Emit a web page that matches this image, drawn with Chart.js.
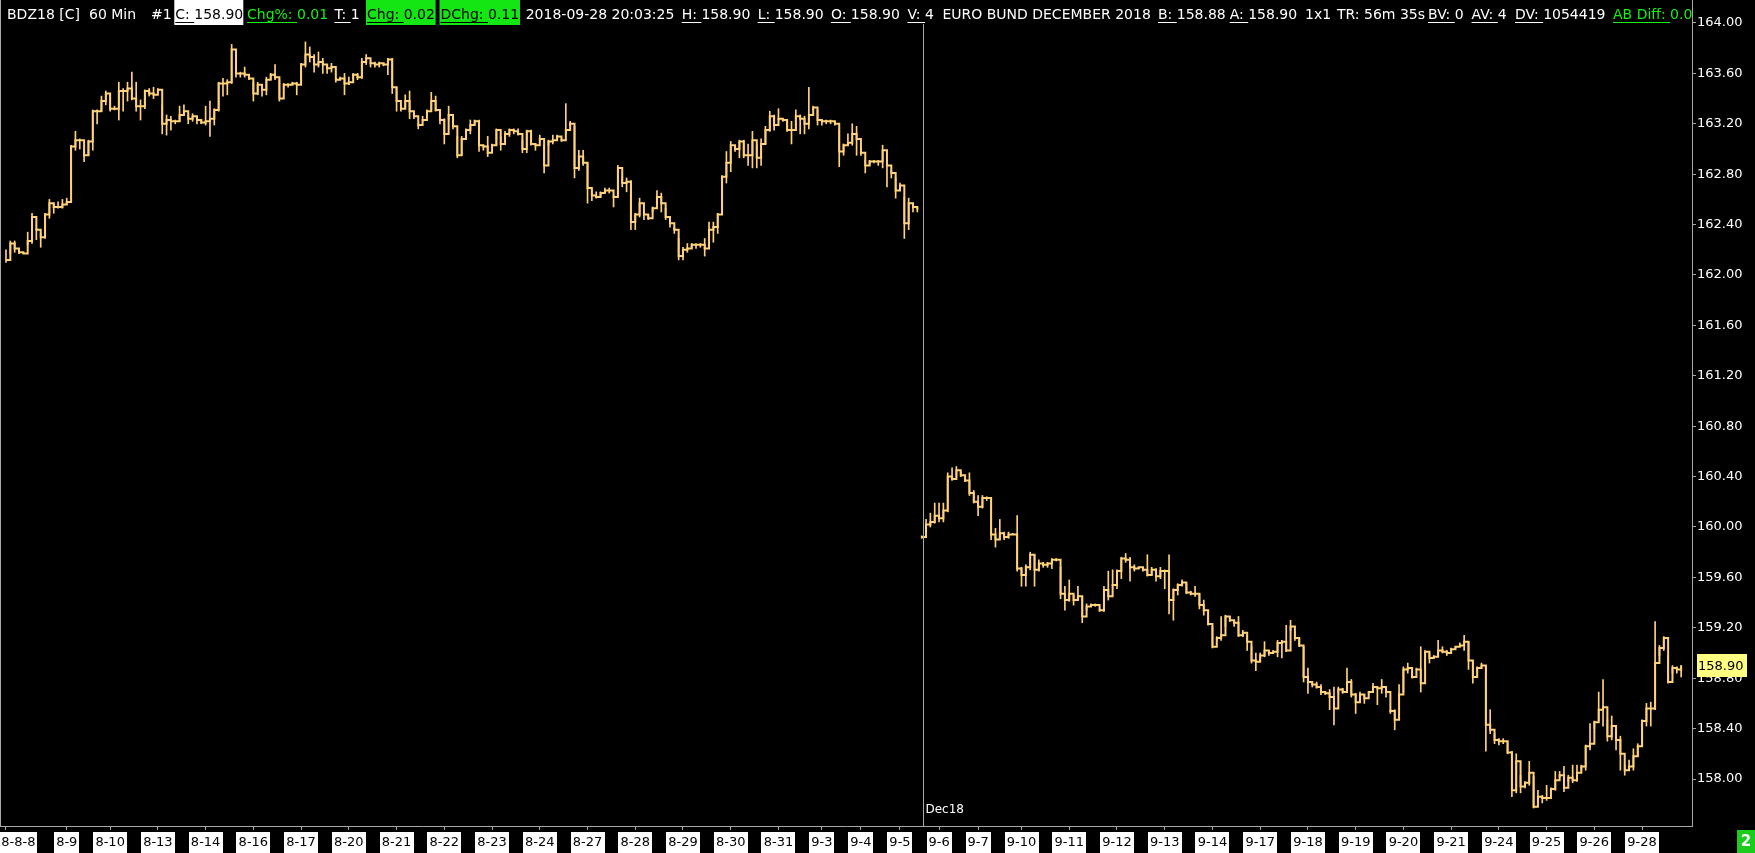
<!DOCTYPE html>
<html><head><meta charset="utf-8">
<script src="https://cdn.jsdelivr.net/npm/chart.js@4.4.1/dist/chart.umd.min.js"></script>
<style>html,body{margin:0;padding:0;background:#000;overflow:hidden}#wrap{width:1755px;height:853px}</style>
</head><body><div id="wrap"><canvas id="c" width="1755" height="853"></canvas></div>
<script>
// ---------- DATA ----------
const dayLabels = ['2018-8-8','8-9','8-10','8-13','8-14','8-16','8-17','8-20','8-21','8-22','8-23','8-24','8-27','8-28','8-29','8-30','8-31','9-3','9-4','9-5','9-6','9-7','9-10','9-11','9-12','9-13','9-14','9-17','9-18','9-19','9-20','9-21','9-24','9-25','9-26','9-28'];
const dayBars = [14,10,11,11,11,11,11,11,11,11,11,11,11,11,11,11,10,9,9,9,9,10,11,11,11,11,11,11,11,11,11,11,11,11,11,10];
const yTicks = [158.0,158.4,158.8,159.2,159.6,160.0,160.4,160.8,161.2,161.6,162.0,162.4,162.8,163.2,163.6,164.0];
const sepStart = 0;      // September contract bars
const decStart = 211;    // December contract bars (after roll)
const rollAt = 211.35;   // roll separator, in bar units
const contractLabel = 'Dec18';
const lastPrice = 158.90;

const sepClose = [162.12,162.25,162.21,162.18,162.17,162.27,162.46,162.36,162.30,162.48,
162.57,162.54,162.54,162.56,162.58,163.02,163.07,163.07,162.95,163.06,
163.30,163.30,163.38,163.44,163.32,163.32,163.46,163.46,163.48,163.40,
163.34,163.34,163.46,163.44,163.43,163.47,163.20,163.23,163.22,163.22,
163.27,163.30,163.24,163.26,163.23,163.21,163.22,163.24,163.31,163.52,
163.52,163.53,163.79,163.60,163.60,163.59,163.56,163.44,163.51,163.47,
163.55,163.59,163.57,163.40,163.51,163.51,163.52,163.51,163.67,163.75,
163.73,163.67,163.69,163.67,163.64,163.65,163.55,163.56,163.52,163.53,
163.59,163.57,163.69,163.72,163.68,163.67,163.68,163.67,163.71,163.49,
163.38,
163.32,163.38,163.30,163.26,163.19,163.23,163.30,163.38,163.31,
163.23,163.12,163.27,163.18,162.95,163.08,163.15,163.19,163.22,163.03,
163.02,162.97,163.03,163.15,163.04,163.12,163.15,163.14,163.12,163.00,
163.14,163.04,163.03,163.08,162.87,163.06,163.07,163.10,163.07,163.15,
163.20,162.85,162.94,162.89,162.69,162.63,162.62,162.65,162.67,162.67,
162.62,162.85,162.73,162.74,162.42,162.48,162.57,162.48,162.45,162.53,
162.62,162.57,162.46,162.41,162.36,162.15,162.20,162.21,162.24,162.24,
162.24,162.21,162.36,162.38,162.48,162.78,162.89,163.03,163.00,163.06,
162.95,162.95,163.07,162.93,163.04,163.15,163.26,163.19,163.24,163.23,
163.15,163.15,163.26,163.24,163.20,163.27,163.33,163.23,163.22,163.22,
163.22,163.20,162.98,163.03,163.05,163.12,163.08,162.97,162.87,162.90,
162.90,162.90,162.99,162.87,162.81,162.67,162.71,162.41,162.57,162.54,162.52];

const sepLow = [162.10,162.17,162.18,162.17,162.17,162.24,162.25,162.28,162.22,162.29,
162.45,162.49,162.53,162.53,162.56,162.68,162.99,163.00,162.90,162.95,
162.99,163.20,163.30,163.35,163.30,163.31,163.23,163.30,163.38,163.39,
163.30,163.23,163.32,163.42,163.40,163.46,163.12,163.11,163.15,163.20,
163.22,163.27,163.20,163.22,163.20,163.20,163.19,163.10,163.19,163.30,
163.42,163.43,163.52,163.57,163.57,163.57,163.55,163.38,163.43,163.42,
163.43,163.55,163.55,163.38,163.48,163.49,163.51,163.43,163.52,163.65,
163.69,163.61,163.65,163.60,163.60,163.61,163.53,163.55,163.43,163.51,
163.56,163.55,163.56,163.67,163.65,163.65,163.65,163.66,163.59,163.44,
163.30,
163.30,163.32,163.24,163.24,163.16,163.22,163.28,163.31,163.30,
163.20,163.04,163.23,163.16,162.93,162.95,163.10,163.12,163.20,162.98,
162.99,162.94,163.02,163.03,162.99,163.07,163.10,163.12,163.11,162.97,
162.97,163.03,162.99,163.06,162.81,163.03,163.04,163.07,163.06,163.12,
163.18,162.77,162.83,162.87,162.57,162.59,162.61,162.62,162.65,162.65,
162.54,162.63,162.70,162.66,162.36,162.36,162.46,162.44,162.44,162.50,
162.56,162.50,162.44,162.38,162.33,162.12,162.12,162.18,162.21,162.21,
162.22,162.15,162.30,162.26,162.33,162.48,162.73,162.82,162.98,162.93,
162.93,162.87,162.85,162.85,162.87,163.04,163.14,163.15,163.23,163.22,
163.14,163.04,163.15,163.12,163.12,163.16,163.31,163.19,163.19,163.20,
163.20,163.19,162.86,162.95,163.03,163.03,162.95,162.95,162.81,162.87,
162.89,162.87,162.85,162.70,162.77,162.61,162.70,162.29,162.36,162.50,162.50];

const sepHigh = [162.20,162.27,162.27,162.19,162.18,162.34,162.49,162.37,162.33,162.49,
162.60,162.57,162.58,162.60,162.61,163.03,163.14,163.08,163.00,163.07,
163.31,163.31,163.42,163.46,163.44,163.34,163.53,163.48,163.53,163.61,
163.53,163.39,163.47,163.48,163.49,163.48,163.35,163.27,163.26,163.23,
163.34,163.35,163.27,163.28,163.26,163.23,163.34,163.38,163.32,163.53,
163.56,163.55,163.83,163.65,163.61,163.65,163.57,163.53,163.53,163.51,
163.57,163.60,163.67,163.55,163.52,163.52,163.53,163.53,163.68,163.85,
163.81,163.75,163.77,163.72,163.67,163.68,163.56,163.57,163.60,163.57,
163.60,163.60,163.72,163.75,163.69,163.69,163.69,163.68,163.72,163.72,
163.49,
163.35,163.43,163.46,163.28,163.20,163.26,163.31,163.45,163.42,
163.31,163.24,163.34,163.26,163.10,163.10,163.16,163.23,163.23,163.23,
163.03,163.10,163.04,163.16,163.10,163.14,163.16,163.16,163.16,163.07,
163.15,163.15,163.04,163.11,163.03,163.07,163.11,163.11,163.08,163.36,
163.22,163.18,162.99,162.99,162.89,162.67,162.66,162.66,162.69,162.69,
162.63,162.87,162.78,162.77,162.75,162.49,162.61,162.50,162.48,162.54,
162.67,162.65,162.53,162.46,162.38,162.29,162.22,162.25,162.25,162.25,
162.25,162.29,162.42,162.42,162.49,162.79,162.98,163.06,163.02,163.07,
163.07,163.04,163.14,163.03,163.08,163.18,163.30,163.27,163.32,163.24,
163.22,163.22,163.31,163.27,163.26,163.49,163.34,163.31,163.23,163.23,
163.23,163.22,163.15,163.04,163.12,163.20,163.18,163.01,162.91,162.91,
162.91,162.91,163.03,162.91,162.83,162.77,162.73,162.62,162.61,162.57,162.53];

const decClose = [159.92,160.02,160.04,160.09,160.07,160.13,160.40,160.38,160.45,160.41,
160.37,160.27,160.20,160.16,160.23,160.23,159.94,159.90,159.95,159.92,
159.94,159.94,159.67,159.62,159.68,159.78,159.66,159.71,159.70,159.71,
159.74,159.74,159.47,159.42,159.47,159.42,159.45,159.29,159.37,159.38,
159.38,159.34,159.50,159.45,159.54,159.65,159.75,159.74,159.68,159.67,
159.68,159.66,159.62,159.66,159.61,159.65,159.65,159.42,159.50,159.54,
159.56,159.48,159.47,159.47,159.38,159.34,159.23,159.05,159.12,159.14,
159.29,159.26,159.24,159.14,159.16,159.09,158.94,158.93,158.98,159.02,
159.00,159.01,159.08,159.09,159.02,159.21,159.12,159.06,158.81,158.77,
158.75,158.73,158.69,158.68,158.65,158.56,158.71,158.69,158.77,158.67,
158.61,158.67,158.64,158.69,158.73,158.72,158.73,158.69,158.54,158.47,
158.67,158.87,158.88,158.81,158.87,158.76,159.01,158.96,158.97,159.02,
159.01,159.00,159.03,159.05,159.06,159.09,158.94,158.81,158.88,158.90,
158.43,158.39,158.31,158.30,158.30,158.21,157.91,158.14,157.94,157.97,
158.05,157.78,157.86,157.85,157.85,157.92,157.99,158.03,157.93,158.01,
157.99,158.05,158.10,158.26,158.28,158.45,158.55,158.57,158.34,158.42,
158.31,158.20,158.07,158.10,158.18,158.26,158.46,158.56,158.56,158.92,
159.04,159.12,158.77,158.88,158.87,158.90];

const decLow = [159.91,159.92,160.00,160.03,160.04,160.04,160.12,160.37,160.40,160.40,
160.36,160.25,160.19,160.09,160.15,160.21,159.90,159.84,159.90,159.90,
159.91,159.94,159.65,159.53,159.53,159.66,159.53,159.65,159.68,159.68,
159.67,159.73,159.43,159.34,159.41,159.38,159.42,159.24,159.34,159.37,
159.37,159.33,159.33,159.42,159.53,159.51,159.59,159.72,159.57,159.65,
159.67,159.65,159.61,159.62,159.57,159.59,159.51,159.31,159.26,159.46,
159.53,159.47,159.46,159.45,159.35,159.30,159.22,159.04,159.10,159.10,
159.21,159.25,159.21,159.13,159.13,159.02,158.92,158.86,158.94,158.97,
158.98,159.00,158.97,158.96,159.01,159.18,159.10,159.05,158.77,158.68,
158.73,158.72,158.67,158.67,158.55,158.43,158.68,158.68,158.72,158.65,
158.52,158.65,158.60,158.68,158.69,158.59,158.68,158.65,158.52,158.39,
158.65,158.69,158.84,158.80,158.87,158.69,158.89,158.92,158.96,158.98,
159.00,158.98,159.02,159.04,159.05,159.02,158.87,158.76,158.85,158.88,
158.22,158.36,158.28,158.27,158.28,158.20,157.86,157.89,157.89,157.93,
157.95,157.77,157.81,157.81,157.83,157.91,157.91,158.01,157.90,157.98,
157.97,157.98,158.07,158.07,158.23,158.40,158.46,158.42,158.30,158.31,
158.23,158.07,158.03,158.07,158.07,158.18,158.26,158.42,158.42,158.55,
158.98,159.02,158.76,158.84,158.84,158.81];

const decHigh = [159.93,160.06,160.11,160.19,160.19,160.19,160.43,160.47,160.48,160.44,
160.38,160.43,160.29,160.25,160.25,160.24,160.23,159.99,160.06,159.96,
159.96,159.95,160.09,159.68,159.70,159.80,159.78,159.74,159.72,159.72,
159.75,159.75,159.68,159.53,159.58,159.46,159.53,159.45,159.39,159.39,
159.39,159.35,159.53,159.65,159.66,159.66,159.76,159.79,159.76,159.70,
159.68,159.68,159.78,159.68,159.67,159.68,159.66,159.78,159.51,159.55,
159.58,159.55,159.49,159.53,159.47,159.42,159.31,159.21,159.13,159.29,
159.30,159.29,159.25,159.29,159.18,159.14,159.05,159.00,159.00,159.09,
159.02,159.02,159.10,159.10,159.22,159.26,159.16,159.12,159.05,158.88,
158.76,158.77,158.75,158.69,158.71,158.73,158.73,158.72,158.88,158.79,
158.68,158.69,158.67,158.69,158.76,158.73,158.79,158.72,158.55,158.55,
158.75,158.89,158.92,158.85,158.88,159.05,159.02,159.00,158.98,159.10,
159.05,159.02,159.04,159.05,159.08,159.14,159.09,158.94,158.89,158.92,
158.90,158.55,158.36,158.32,158.32,158.30,158.22,158.20,158.03,157.98,
158.14,158.02,157.91,157.87,157.95,157.93,158.06,158.06,158.10,158.03,
158.11,158.11,158.11,158.27,158.44,158.46,158.69,158.79,158.47,158.50,
158.39,158.34,158.11,158.15,158.24,158.28,158.47,158.60,158.61,159.25,
159.06,159.13,158.98,158.90,158.89,158.90];

// ---------- BUILD ----------
const BAR = '#FFD27A';
const AXIS = '#A8A8A8';
const FONT = '"DejaVu Sans", sans-serif';
Chart.defaults.font.family = FONT;

const dayStarts = [];
dayBars.reduce((acc, n) => { dayStarts.push(acc); return acc + n; }, 0);
const nBars = dayBars.reduce((a, b) => a + b, 0);

const toRanges = (lo, hi, start) => lo.map((v, k) => ({x: start + k, y: [v, hi[k]]}));
const toPts = (c, start) => c.map((v, k) => ({x: start + k, y: v}));

// quote header: text pieces (label underlined) and their start positions
const header = [
  {x: 7,      v: 'BDZ18 [C]'},
  {x: 89,     v: '60 Min'},
  {x: 151,    v: '#1'},
  {x: 174.3,  w: 69,   l: 'C:', v: '158.90', fg: '#000', bg: '#fff'},
  {x: 247,    l: 'Chg%:', v: '0.01', fg: '#14f014'},
  {x: 334.5,  l: 'T:', v: '1'},
  {x: 366,    w: 69.6, l: 'Chg:', v: '0.02', fg: '#000', bg: '#14e614'},
  {x: 439.5,  w: 80.5, l: 'DChg:', v: '0.11', fg: '#000', bg: '#14e614'},
  {x: 525.7,  v: '2018-09-28 20:03:25'},
  {x: 681.7,  l: 'H:', v: '158.90'},
  {x: 757.7,  l: 'L:', v: '158.90'},
  {x: 830.9,  l: 'O:', v: '158.90'},
  {x: 907.4,  l: 'V:', v: '4'},
  {x: 942.4,  v: 'EURO BUND DECEMBER 2018'},
  {x: 1158,   l: 'B:', v: '158.88'},
  {x: 1229.7, l: 'A:', v: '158.90'},
  {x: 1305,   v: '1x1'},
  {x: 1337,   v: 'TR: 56m 35s'},
  {x: 1428,   l: 'BV:', v: '0'},
  {x: 1471.5, l: 'AV:', v: '4'},
  {x: 1515,   l: 'DV:', v: '1054419'},
  {x: 1613,   l: 'AB Diff:', v: '0.02', fg: '#14f014'}
];

const deco = {
  id: 'deco',
  afterDraw(chart) {
    const {ctx, chartArea: a, scales: {x, y}} = chart;
    ctx.save();
    // left border
    ctx.fillStyle = AXIS;
    ctx.fillRect(0, 0, 1, a.bottom);
    // date labels of the x axis (white boxes), placed by the x scale
    ctx.font = '13px ' + FONT; ctx.textAlign = 'center'; ctx.textBaseline = 'middle';
    dayStarts.forEach((v, i) => {
      const px = x.getPixelForValue(v);
      const w = Math.round(ctx.measureText(dayLabels[i]).width + 4);
      ctx.fillStyle = '#fff';
      ctx.fillRect(Math.round(px - w / 2), a.bottom + 6, w, 21);
      ctx.fillStyle = '#000';
      ctx.fillText(dayLabels[i], px, a.bottom + 17);
    });
    // contract roll separator
    const sx = Math.round(x.getPixelForValue(rollAt)) + 0.5;
    ctx.strokeStyle = AXIS; ctx.lineWidth = 1;
    ctx.beginPath(); ctx.moveTo(sx, 24); ctx.lineTo(sx, a.bottom); ctx.stroke();
    ctx.fillStyle = '#fff'; ctx.font = '12px ' + FONT;
    ctx.textAlign = 'left'; ctx.textBaseline = 'alphabetic';
    ctx.fillText(contractLabel, sx + 2, a.bottom - 13);
    // last price marker
    const py = y.getPixelForValue(lastPrice);
    ctx.fillStyle = '#FFFF80';
    ctx.fillRect(a.right + 5, Math.round(py - 11.5), 50, 23);
    ctx.fillStyle = '#000'; ctx.font = '13px ' + FONT; ctx.textBaseline = 'middle';
    ctx.fillText(lastPrice.toFixed(2), a.right + 6, py + 1);
    // header
    ctx.font = '14px ' + FONT; ctx.textBaseline = 'alphabetic'; ctx.textAlign = 'left';
    ctx.save();
    ctx.beginPath(); ctx.rect(0, 0, a.right, 30); ctx.clip();
    header.forEach(h => {
      const lab = h.l ? h.l + ' ' : '';
      const txt = lab + h.v;
      if (h.bg) { ctx.fillStyle = h.bg; ctx.fillRect(h.x, 0, h.w, 25); }
      const tx = h.x + (h.bg ? 1 : 0);
      ctx.fillStyle = h.fg || '#fff';
      ctx.fillText(txt, tx, 19);
      if (h.l) ctx.fillRect(tx, 22, ctx.measureText(lab).width, 1);
    });
    ctx.restore();
    // page badge
    ctx.fillStyle = '#1ccc1c';
    ctx.fillRect(1737, 830, 18, 23);
    ctx.fillStyle = '#fff'; ctx.font = 'bold 15px ' + FONT; ctx.textAlign = 'center'; ctx.textBaseline = 'middle';
    ctx.fillText('2', 1746, 842);
    ctx.restore();
  }
};

new Chart(document.getElementById('c'), {
  type: 'bar',
  data: {
    datasets: [
      {type: 'bar', data: toRanges(sepLow, sepHigh, sepStart).concat(toRanges(decLow, decHigh, decStart)),
       backgroundColor: BAR, borderWidth: 0, barThickness: 1, grouped: false, order: 2},
      {type: 'line', data: toPts(sepClose, sepStart), stepped: true, borderColor: BAR, borderWidth: 2,
       pointRadius: 0, fill: false, order: 1},
      {type: 'line', data: toPts(decClose, decStart), stepped: true, borderColor: BAR, borderWidth: 2,
       pointRadius: 0, fill: false, order: 1}
    ]
  },
  options: {
    responsive: false, devicePixelRatio: 1, animation: false,
    layout: {padding: 0},
    plugins: {legend: {display: false}, tooltip: {enabled: false}},
    scales: {
      x: {
        type: 'linear', position: 'bottom', min: -1.38, max: nBars + 1.5, offset: false,
        grid: {offset: false, drawOnChartArea: false, drawTicks: true, tickLength: 4, color: AXIS},
        border: {display: true, color: AXIS, width: 1},
        afterBuildTicks: s => { s.ticks = dayStarts.map(v => ({value: v})); },
        afterFit: s => { s.height = 27; s.paddingLeft = 0; s.paddingRight = 0; },
        ticks: {display: false, autoSkip: false, maxRotation: 0}
      },
      y: {
        type: 'linear', position: 'right', min: 157.627, max: 164.1825,
        grid: {drawOnChartArea: false, drawTicks: true, tickLength: 4, color: AXIS},
        border: {display: true, color: AXIS, width: 1},
        afterBuildTicks: s => { s.ticks = yTicks.map(v => ({value: v})); },
        afterFit: s => { s.width = 63; s.paddingTop = 0; s.paddingBottom = 0; },
        ticks: {color: '#fff', padding: 1, font: {family: FONT, size: 13}, callback: v => v.toFixed(2)}
      }
    }
  },
  plugins: [deco]
});
</script>
</body></html>
